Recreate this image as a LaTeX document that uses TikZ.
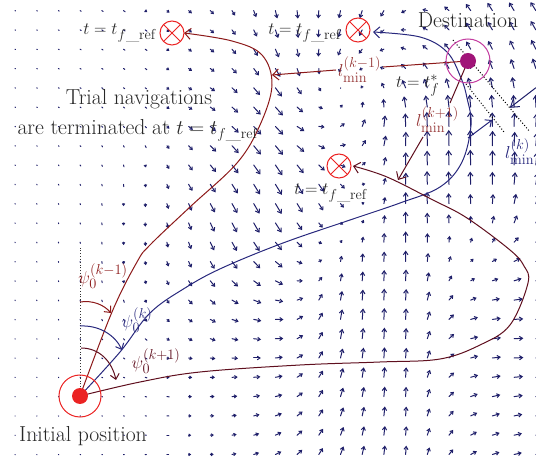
\documentclass[tikz,border=0pt]{standalone}
\usetikzlibrary{arrows.meta,calc}
\definecolor{fieldc}{RGB}{30,30,105}
\definecolor{trA}{RGB}{140,25,25}
\definecolor{trB}{RGB}{40,40,125}
\definecolor{trC}{RGB}{95,15,30}
\definecolor{lblA}{RGB}{150,55,55}
\definecolor{xred}{RGB}{235,35,35}
\definecolor{destc}{RGB}{160,20,120}
\definecolor{destring}{RGB}{195,60,160}
\definecolor{txt}{RGB}{40,40,40}
\tikzset{
  fieldarrow/.style={draw=fieldc,line width=1pt,line cap=round},
  lbl/.style={font=\fontsize{19}{23}\selectfont,text=txt,inner sep=0pt},
  tlbl/.style={font=\fontsize{21.7}{26}\selectfont,text=txt,inner sep=0pt},
  traj/.style={line width=1pt},
  barb/.style={-{Straight Barb[length=6pt,width=11pt]}},
  xcirc/.style={draw=xred,line width=1pt},
}
% ---- vector field: compact-support RBF interpolation of control vectors ----
\newcommand\fldCtrl[4]{%
  \ifdim\dimexpr\fldPX pt-#1pt\relax<80pt
  \ifdim\dimexpr#1pt-\fldPX pt\relax<80pt
  \ifdim\dimexpr\fldPY pt-#2pt\relax<80pt
  \ifdim\dimexpr#2pt-\fldPY pt\relax<80pt
    \fldAdd{#1}{#2}{#3}{#4}%
  \fi\fi\fi\fi}
\newcommand\fldAdd[4]{%
  \edef\fldD{\fpeval{((\fldPX-(#1))^2+(\fldPY-(#2))^2)/6400}}%
  \ifdim\fldD pt<1pt
    \edef\fldW{\fpeval{(1-\fldD)^2}}%
    \edef\fldSW{\fpeval{\fldSW+\fldW}}%
    \edef\fldSX{\fpeval{\fldSX+\fldW*(#3)}}%
    \edef\fldSY{\fpeval{\fldSY+\fldW*(#4)}}%
  \fi}
\newcommand\fldCtrls{%
 \fldCtrl{15}{10.6}{0.5}{0.3}\fldCtrl{80}{10.6}{1}{0.6}\fldCtrl{145}{10.6}{2}{1.5}\fldCtrl{210}{10.6}{4}{3.5}\fldCtrl{275}{10.6}{1}{8}\fldCtrl{340}{10.6}{-1}{8}\fldCtrl{405}{10.6}{-4}{8}\fldCtrl{470}{10.6}{-4}{-6}\fldCtrl{536}{10.6}{-5}{-8}%
 \fldCtrl{445}{43}{-7}{-9}\fldCtrl{510}{45}{-6}{-10}\fldCtrl{514}{88}{-2}{-10}%
 \fldCtrl{15}{68.5}{0.5}{0.3}\fldCtrl{80}{68.5}{1}{0.5}\fldCtrl{145}{68.5}{1.5}{1}\fldCtrl{210}{68.5}{4}{2.5}\fldCtrl{275}{68.5}{6}{9}\fldCtrl{340}{68.5}{-4}{6}\fldCtrl{405}{68.5}{-5}{-4}\fldCtrl{470}{68.5}{-2}{-6}%
 \fldCtrl{15}{126.4}{0.5}{0.3}\fldCtrl{80}{126.4}{1}{0.8}\fldCtrl{145}{126.4}{1}{1}\fldCtrl{210}{126.4}{6}{4}\fldCtrl{275}{126.4}{9}{10}\fldCtrl{340}{126.4}{6}{-8}\fldCtrl{405}{126.4}{0}{-15}\fldCtrl{470}{126.4}{0}{-18}\fldCtrl{536}{126.4}{2}{-14}%
 \fldCtrl{15}{184.3}{0.3}{0.5}\fldCtrl{80}{184.3}{0.5}{1}\fldCtrl{145}{184.3}{0}{3}\fldCtrl{210}{184.3}{6}{9}\fldCtrl{275}{184.3}{6}{11}\fldCtrl{340}{184.3}{5}{10}\fldCtrl{405}{184.3}{0}{-13}\fldCtrl{470}{184.3}{-1}{-14}\fldCtrl{536}{184.3}{1}{-12}%
 \fldCtrl{15}{242.2}{0.2}{0.5}\fldCtrl{80}{242.2}{0.3}{1}\fldCtrl{145}{242.2}{0}{4}\fldCtrl{210}{242.2}{3}{9}\fldCtrl{275}{242.2}{7}{10}\fldCtrl{340}{242.2}{1}{-3}\fldCtrl{405}{242.2}{0}{-12}\fldCtrl{470}{242.2}{0}{-2}\fldCtrl{536}{242.2}{7}{-6}%
 \fldCtrl{15}{300.1}{0.2}{0.5}\fldCtrl{80}{300.1}{0.3}{1}\fldCtrl{145}{300.1}{1}{3}\fldCtrl{210}{300.1}{6}{5}\fldCtrl{275}{300.1}{9}{1}\fldCtrl{340}{300.1}{1}{-11}\fldCtrl{405}{300.1}{0}{-12}\fldCtrl{470}{300.1}{7}{-2}\fldCtrl{536}{300.1}{10}{0}%
 \fldCtrl{15}{358}{0.2}{0.3}\fldCtrl{80}{358}{0.5}{0.5}\fldCtrl{145}{358}{2}{1}\fldCtrl{210}{358}{5}{0}\fldCtrl{275}{358}{8}{0}\fldCtrl{340}{358}{2}{-10}\fldCtrl{405}{358}{0}{-11}\fldCtrl{470}{358}{8}{-1}\fldCtrl{536}{358}{10}{0}%
 \fldCtrl{15}{415.9}{0.2}{0.2}\fldCtrl{80}{415.9}{0.5}{0.2}\fldCtrl{145}{415.9}{1}{0}\fldCtrl{210}{415.9}{4}{0}\fldCtrl{275}{415.9}{7}{-2}\fldCtrl{340}{415.9}{3}{-9}\fldCtrl{405}{415.9}{0}{-10}\fldCtrl{470}{415.9}{7}{-3}\fldCtrl{536}{415.9}{9}{-1}%
 \fldCtrl{15}{454.5}{0.2}{0.2}\fldCtrl{80}{454.5}{0.5}{0.2}\fldCtrl{145}{454.5}{1}{0}\fldCtrl{210}{454.5}{3}{0}\fldCtrl{275}{454.5}{6}{-3}\fldCtrl{340}{454.5}{3}{-8}\fldCtrl{405}{454.5}{0}{-9}\fldCtrl{470}{454.5}{6}{-3}\fldCtrl{536}{454.5}{8}{-1}%
}
\newcommand\fldArrow[2]{%
  \edef\fldPX{\fpeval{15+21.7*#1}}%
  \edef\fldPY{\fpeval{10.6+19.3*#2}}%
  \def\fldSW{0.000001}\def\fldSX{0}\def\fldSY{0}%
  \fldCtrls
  \edef\fldVX{\fpeval{round(\fldSX/\fldSW,2)}}%
  \edef\fldVY{\fpeval{round(\fldSY/\fldSW,2)}}%
  \ifnum#1=24 \ifnum#2=4 \def\fldVX{-26}\def\fldVY{20}\fi\fi
  \edef\fldL{\fpeval{round(sqrt((\fldVX)^2+(\fldVY)^2),2)}}%
  \ifdim\fldL pt>2.5pt
    \edef\fldHL{\fpeval{round(0.2*\fldL+1.2,2)}}%
    \edef\fldHW{\fpeval{round(0.26*\fldL+1.8,2)}}%
    \draw[fieldarrow,-{Straight Barb[length=\fldHL pt,width=\fldHW pt]}] (\fldPX,\fldPY) -- ++(\fldVX,\fldVY);
  \else
    \draw[fieldarrow] (\fldPX,\fldPY) -- ++(\fldVX,\fldVY);
  \fi}
\begin{document}
\begin{tikzpicture}[x=1pt,y=-1pt]
\useasboundingbox (0,0) rectangle (536,462);
% vector field
\foreach \i in {0,...,23}{\foreach \j in {0,...,24}{\fldArrow{\j}{\i}}}
% key points
\coordinate (init) at (80,396);
\coordinate (dest) at (468,61);
\coordinate (xa) at (172,33);
\coordinate (xb) at (358,30);
\coordinate (xc) at (339,166);
% reference vertical
\draw[dotted,line width=0.9pt,draw=black!80] (init) -- (80,248);
% trajectories
\draw[traj,trA,barb] plot[smooth,tension=0.6] coordinates {(80,396) (112,312) (137,262) (150,245) (190,207) (237,163) (260,125) (272,85) (262,55) (232,41) (184,33)};
\draw[traj,trB,barb] plot[smooth,tension=0.6] coordinates {(80,396) (120,352) (150,313) (185,288) (222,268) (283,243) (350,220) (400,203) (440,187) (462,162) (471,125) (467,98) (461,78) (447,52) (420,37) (373,32)};
\draw[traj,trC,barb] plot[smooth,tension=0.6] coordinates {(80,396) (140,382) (200,372) (300,365) (380,362) (440,359) (480,345) (510,325) (528,283) (524,266) (510,250) (467,218) (433,200) (387,177) (353,166)};
% angle arcs
\draw[traj,trA,-{Straight Barb[length=5pt,width=9pt]}] (80,302) .. controls (93,300) and (104,305) .. (111,313);
\draw[traj,trB,-{Straight Barb[length=5pt,width=9pt]}] (80,326) .. controls (99,325) and (115,335) .. (122,350);
\draw[traj,trC,-{Straight Barb[length=5pt,width=9pt]}] (81,348) .. controls (100,348) and (112,362) .. (116,380);
% l_min arrows
\coordinate (lA1) at (383,67); \coordinate (lA2) at (336,70); \coordinate (lAend) at (272,75);
\draw[traj,trA] (dest) -- (lA1);
\draw[traj,trA,barb] (lA2) -- (lAend);
\coordinate (lC1) at (450,103); \coordinate (lC2) at (423,137); \coordinate (lCend) at (398,180);
\draw[traj,trC] (dest) -- (lC1);
\draw[traj,trC,barb] (lC2) -- (lCend);
\coordinate (lBs) at (468,138); \coordinate (lBend) at (492,120);
\draw[traj,trB,-{Straight Barb[length=5pt,width=9pt]}] (lBs) -- (lBend);
\coordinate (dotA1) at (453,40); \coordinate (dotA2) at (530,132);
\coordinate (dotB1) at (466,84); \coordinate (dotB2) at (504,132);
\draw[dotted,line width=1pt] (dotA1) -- (dotA2);
\draw[dotted,line width=1pt] (dotB1) -- (dotB2);
% target crosses
\foreach \p in {xa,xb,xc}{
  \draw[xcirc] (\p) circle[radius=12];
  \draw[xcirc] ($(\p)+(-8.5,-8.5)$) -- ($(\p)+(8.5,8.5)$);
  \draw[xcirc] ($(\p)+(-8.5,8.5)$) -- ($(\p)+(8.5,-8.5)$);
}
% initial and destination
\fill[xred] (init) circle[radius=8];
\draw[xred,line width=1pt] (init) circle[radius=21];
\fill[destc] (dest) circle[radius=8];
\draw[destring,line width=1pt] (dest) circle[radius=22];
% labels
\node[tlbl,anchor=base] (destlbl) at (468,28) {Destination};
\node[tlbl,anchor=base] (trial1) at (139,105) {Trial navigations};
\node[tlbl,anchor=base] (trial2) at (138,135) {are terminated at $t=t_{f\_\mathrm{ref}}$};
\node[tlbl,anchor=base] (initlbl) at (83,442) {Initial position};
\node[lbl,anchor=base east] (tra) at (157,35) {$t=t_{f\_\mathrm{ref}}$};
\node[lbl,anchor=base east] (trb) at (342,35) {$t=t_{f\_\mathrm{ref}}$};
\node[lbl,anchor=base east] (trc) at (368,195) {$t=t_{f\_\mathrm{ref}}$};
\node[lbl,anchor=base west] (tstar) at (396,88) {$t=t_f^*$};
\node[lbl,anchor=base west,text=lblA] (lminA) at (338,77) {$l_{\min}^{(k-1)}$};
\node[lbl,anchor=base west,text=lblA] (lminC) at (416,127) {$l_{\min}^{(k+1)}$};
\node[lbl,anchor=base west,text=trB] (lminB) at (505,159) {$l_{\min}^{(k)}$};
\node[lbl,text=trA] (psiA) at (103,276) {$\psi_0^{(k-1)}$};
\node[lbl,text=trB] (psiB) at (137,320) {$\psi_0^{(k)}$};
\node[lbl,text=trC] (psiC) at (156,361) {$\psi_0^{(k+1)}$};
\end{tikzpicture}
\end{document}
